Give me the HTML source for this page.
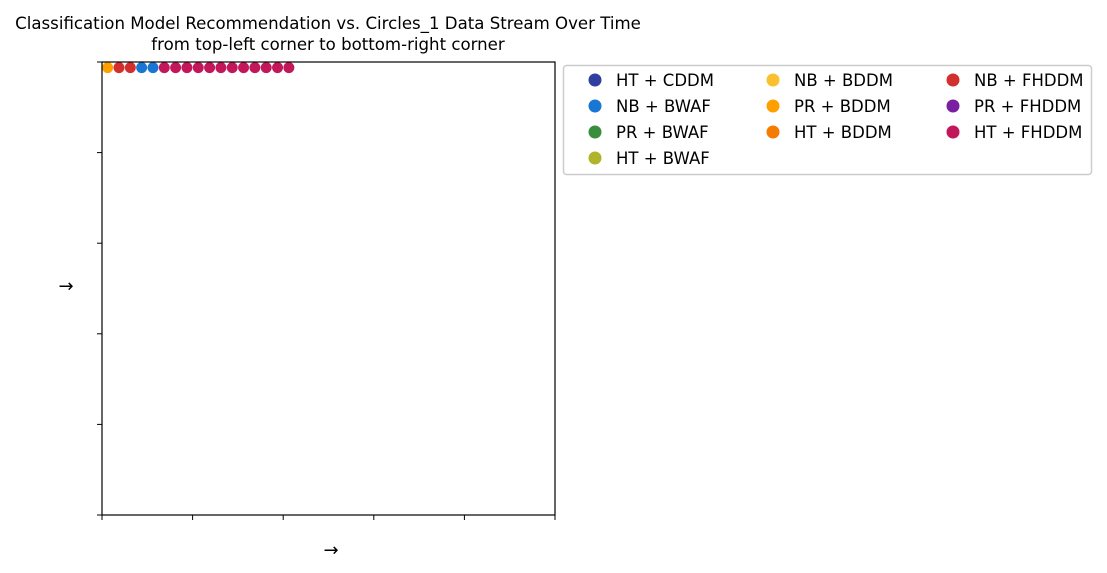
<!DOCTYPE html>
<html><head><meta charset="utf-8"><style>
body{margin:0;background:#fff;}
svg{display:block;font-family:"DejaVu Sans","Liberation Sans",sans-serif;}
</style></head><body>
<svg id="chart" width="1107" height="573" viewBox="0 0 1107 573">
<text x="328" y="29" text-anchor="middle" font-size="16.6">Classification Model Recommendation vs. Circles_1 Data Stream Over Time</text>
<text x="328" y="50" text-anchor="middle" font-size="16.6">from top-left corner to bottom-right corner</text>
<g id="ticks"></g>
<g id="points"></g>
<rect x="102" y="62" width="453" height="453" fill="none" stroke="#000" stroke-width="1.2"/>
<text x="331" y="556" text-anchor="middle" font-size="18">→</text>
<text x="66" y="292" text-anchor="middle" font-size="18">→</text>
<rect x="563.5" y="65.5" width="528" height="109" rx="3" fill="#fff" stroke="#ccc" stroke-width="1.5"/>
<g id="legend"></g>
</svg>
<script>
const labels = ["HT + CDDM","NB + BWAF","PR + BWAF","HT + BWAF","NB + BDDM","PR + BDDM","HT + BDDM","NB + FHDDM","PR + FHDDM","HT + FHDDM"];
const colors = ["#303f9f","#1976d2","#388e3c","#afb42b","#fbc02d","#ffa000","#f57c00","#d32f2f","#7b1fa2","#c2185b"];
const recs = ["PR + BDDM","NB + FHDDM","NB + FHDDM","NB + BWAF","NB + BWAF","HT + FHDDM","HT + FHDDM","HT + FHDDM","HT + FHDDM","HT + FHDDM","HT + FHDDM","HT + FHDDM","HT + FHDDM","HT + FHDDM","HT + FHDDM","HT + FHDDM","HT + FHDDM"];
const gridN = 40;
const X0=102,X1=555,Y0=62,Y1=515;
const sx = c => X0 + (c+0.5)/gridN*(X1-X0);
const sy = r => Y0 + (r+0.5)/gridN*(Y1-Y0);
const NS="http://www.w3.org/2000/svg";
const tg=document.getElementById('ticks');
for(let i=0;i<=5;i++){
  const tx=X0+i*(X1-X0)/5, ty=Y0+i*(Y1-Y0)/5;
  const a=document.createElementNS(NS,'line');
  a.setAttribute('x1',tx);a.setAttribute('x2',tx);a.setAttribute('y1',Y1);a.setAttribute('y2',Y1+5);a.setAttribute('stroke','#000');
  
  
  tg.appendChild(a);
  const b=document.createElementNS(NS,'line');
  b.setAttribute('x1',X0-5);b.setAttribute('x2',X0);b.setAttribute('y1',ty);b.setAttribute('y2',ty);b.setAttribute('stroke','#000');
  
  
  tg.appendChild(b);
}
const pg=document.getElementById('points');
recs.forEach((r,i)=>{
  const c=document.createElementNS(NS,'circle');
  c.setAttribute('cx',sx(i%gridN));c.setAttribute('cy',sy(Math.floor(i/gridN)));c.setAttribute('r',5.5);
  c.setAttribute('fill',colors[labels.indexOf(r)]);
  
  
  pg.appendChild(c);
});
const lg=document.getElementById('legend');
const colX=[595,773,953], rowY=[80,106,132,158];
const perCol=[4,3,3];
let k=0;
perCol.forEach((n,ci)=>{
  for(let ri=0;ri<n;ri++,k++){
    const g=document.createElementNS(NS,'g');
    
    
    const c=document.createElementNS(NS,'circle');
    c.setAttribute('cx',colX[ci]);c.setAttribute('cy',rowY[ri]);c.setAttribute('r',6.5);c.setAttribute('fill',colors[k]);
    const t=document.createElementNS(NS,'text');
    t.setAttribute('x',colX[ci]+21);t.setAttribute('y',rowY[ri]+6);t.setAttribute('font-size','16.5');
    t.textContent=labels[k];
    g.appendChild(c);g.appendChild(t);lg.appendChild(g);
  }
});
</script>
</body></html>
